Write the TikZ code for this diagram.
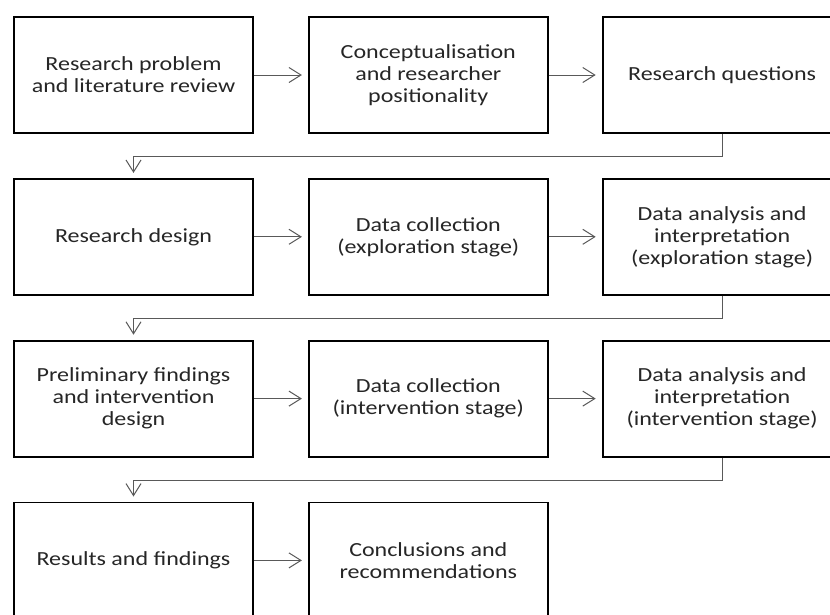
\documentclass[tikz,border=0pt]{standalone}
\usepackage{fontspec}
\setmainfont{Carlito}[FakeStretch=1.2]
\usepackage{tikz}
\usetikzlibrary{arrows.meta, positioning}
\usepackage{xcolor}

\begin{document}
\begin{tikzpicture}[
    stagebox/.style={draw=black, line width=1.8pt, minimum width=239pt, minimum height=116pt,
                  align=center, text=black!85, font=\fontsize{20pt}{22pt}\selectfont},
    arr/.style={-{Straight Barb[length=12pt, width=15pt]}, line width=1pt, color=black!65, shorten >=6pt},
    node distance=44pt and 54pt
]
\clip (0,0) rectangle (830pt,-614pt);
\fill[white] (0,0) rectangle (830pt,-614pt);

\node[stagebox] (problem) at (133.5pt,-75pt) {Research problem\\and literature review};
\node[stagebox, right=54pt of problem] (concept) {Conceptualisation\\and researcher\\positionality};
\node[stagebox, right=53pt of concept] (questions) {Research questions};

\node[stagebox, below=of problem] (design) {Research design};
\node[stagebox, right=54pt of design] (collectexp) {Data collection\\(exploration stage)};
\node[stagebox, right=53pt of collectexp] (analysisexp) {Data analysis and\\interpretation\\(exploration stage)};

\node[stagebox, below=of design] (prelim) {Preliminary findings\\and intervention\\design};
\node[stagebox, right=54pt of prelim] (collectint) {Data collection\\(intervention stage)};
\node[stagebox, right=53pt of collectint] (analysisint) {Data analysis and\\interpretation\\(intervention stage)};

\node[stagebox, below=of prelim] (results) {Results and findings};
\node[stagebox, right=54pt of results] (conclusions) {Conclusions and\\recommendations};

\draw[arr] (problem) -- (concept);
\draw[arr] (concept) -- (questions);
\draw[arr] (design) -- (collectexp);
\draw[arr] (collectexp) -- (analysisexp);
\draw[arr] (prelim) -- (collectint);
\draw[arr] (collectint) -- (analysisint);
\draw[arr] (results) -- (conclusions);

% row to row
\draw[arr, shorten >=5pt] (questions.south) -- ++(0,-23pt) -| (design.north);
\draw[arr, shorten >=5pt] (analysisexp.south) -- ++(0,-23pt) -| (prelim.north);
\draw[arr, shorten >=5pt] (analysisint.south) -- ++(0,-23pt) -| (results.north);
\end{tikzpicture}
\end{document}
